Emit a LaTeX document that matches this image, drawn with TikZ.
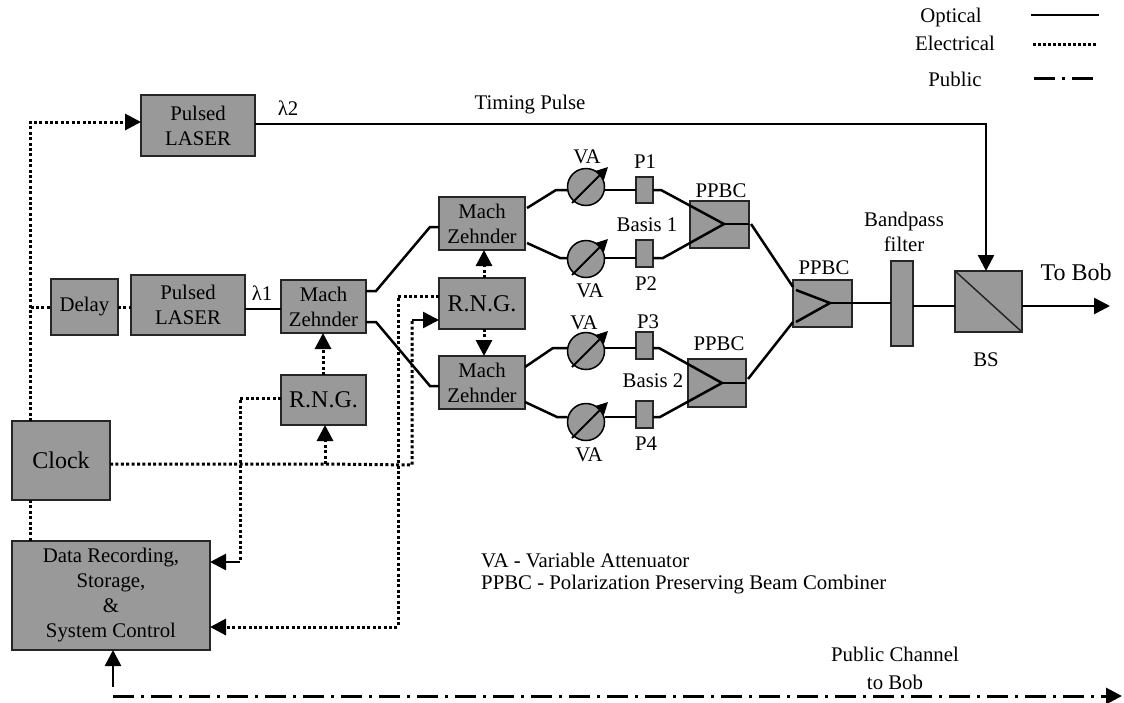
\documentclass[tikz,border=0pt]{standalone}
\usepackage{fontspec}
\setmainfont{Liberation Serif}
\usetikzlibrary{arrows.meta,calc}
\newcommand\gb[6]{%
  \pgfmathsetmacro\gbw{#4-#2}\pgfmathsetmacro\gbh{#5-#3}%
  \pgfmathsetmacro\gbx{(#2+#4)/2}\pgfmathsetmacro\gby{(#3+#5)/2}%
  \node[gbox,minimum width=\gbw pt,minimum height=\gbh pt] (#1) at (\gbx,\gby) {#6};}
\tikzset{
  gbox/.style={draw=black!85,fill=black!40,line width=1.5pt,inner sep=0pt,outer sep=0pt,align=center},
  big/.style={font=\fontsize{24}{28}\selectfont},
  vacirc/.style={circle,draw=black,fill=black!40,line width=1.5pt,minimum size=37pt,inner sep=0pt,outer sep=0pt},
  lbl/.style={inner sep=0pt,align=center},
  opt/.style={line width=2.5pt,line join=miter},
  elec/.style={line width=3pt,dash pattern=on 3pt off 2.4pt},
  pub/.style={line width=3pt,dash pattern=on 21pt off 7pt on 3pt off 7pt},
  tip/.style={-{Triangle[length=16pt,width=16pt]}},
  vtip/.style={-{Triangle[length=12pt,width=12pt]},line width=1.8pt}
}
\begin{document}
\begin{tikzpicture}[x=1pt,y=-1pt,font=\fontsize{20.8}{25}\selectfont]
\useasboundingbox (0,0) rectangle (1124,702);
% boxes
\gb{LT}{141}{95}{255}{156}{Pulsed\\LASER}
\gb{DL}{51}{279}{118}{335}{Delay}
\gb{LB}{131}{275}{245}{335}{Pulsed\\LASER}
\gb{MA}{281}{280}{366}{333}{Mach\\Zehnder}
\gb{RA}{281}{375}{366}{425}{\fontsize{24}{28}\selectfont R.N.G.}
\gb{CK}{12}{421}{110}{500}{\fontsize{24}{28}\selectfont Clock}
\gb{DR}{12}{541}{210}{650}{Data Recording,\\Storage,\\\&\\System Control}
\gb{MT}{439}{197}{525}{250}{Mach\\Zehnder}
\gb{RB}{439}{278}{525}{329}{\fontsize{24}{28}\selectfont R.N.G.}
\gb{MB}{439}{356}{525}{409}{Mach\\Zehnder}
\node[vacirc] (V1) at (586,187) {};
\node[vacirc] (V2) at (586,259) {};
\node[vacirc] (V3) at (586,351) {};
\node[vacirc] (V4) at (586,422) {};
\gb{P1}{636}{177}{653}{203}{}
\gb{P2}{636}{240}{653}{267}{}
\gb{P3}{636}{332}{653}{359}{}
\gb{P4}{636}{401}{653}{428}{}
\gb{C1}{690}{201}{749}{248}{}
\gb{C2}{688}{359}{746}{407}{}
\gb{C3}{793}{280}{852}{327}{}
\gb{FL}{891}{261}{913}{346}{}
\gb{BS}{955}{271}{1022}{332}{}
% named points
\coordinate (a1) at (376,291); \coordinate (a2) at (430,227);
\coordinate (b1) at (376,322); \coordinate (b2) at (430,386);
\coordinate (t1) at (556,190); \coordinate (t1p) at (661,190); \coordinate (tip1) at (724,224);
\coordinate (t2) at (560,258); \coordinate (t2p) at (663,258);
\coordinate (t3) at (553,348); \coordinate (t3p) at (659,348); \coordinate (tip2) at (722,383);
\coordinate (t4) at (557,417); \coordinate (t4p) at (660,417);
\coordinate (tip3) at (830,303);
\coordinate (s1) at (751,224); \coordinate (s2) at (793,287);
\coordinate (s3) at (748,379); \coordinate (s4) at (793,322);
\coordinate (i1) at (796,290); \coordinate (i2) at (796,322);
\coordinate (bsy) at (955,306);
\coordinate (bob) at (1110,306);
\coordinate (tm) at (986,124);
\coordinate (up) at (30.5,122);
\coordinate (dj) at (30.5,307);
\coordinate (ck) at (110,464);
\coordinate (ck1) at (325,464);
\coordinate (ck2) at (412,465);
\coordinate (ck3) at (412,320);
\coordinate (ra1) at (240,398);
\coordinate (ra2) at (240,562);
\coordinate (rb1) at (398,296);
\coordinate (rb2) at (398,627);
\coordinate (pb1) at (113,696);
\coordinate (pb2) at (113,687);
\coordinate (pb3) at (1122,696);
% optical
\draw[opt,tip] (LT.east |- tm) -- (tm) -- (BS.north -| tm);
\draw[opt] (LB.east |- 0,309) -- (MA.west |- 0,309);
\draw[opt] (MA.east |- a1) -- (a1) -- (a2) -- (MT.west |- a2);
\draw[opt] (MA.east |- b1) -- (b1) -- (b2) -- (MB.west |- b2);
\draw[opt] (527,208) -- (t1) -- (V1.west |- t1);
\draw[opt] (527,243) -- (t2) -- (V2.west |- t2);
\draw[opt] (MB.east |- 0,367) -- (t3) -- (V3.west |- t3);
\draw[opt] (MB.east |- 0,402) -- (t4) -- (V4.west |- t4);
\draw[opt] (V1.east |- t1) -- (P1.west |- t1);
\draw[opt] (V2.east |- t2) -- (P2.west |- t2);
\draw[opt] (V3.east |- t3) -- (P3.west |- t3);
\draw[opt] (V4.east |- t4) -- (P4.west |- t4);
\draw[opt] (P1.east |- t1p) -- (t1p) -- (tip1) -- (t2p) -- (P2.east |- t2p);
\draw[opt] (P3.east |- t3p) -- (t3p) -- (tip2) -- (t4p) -- (P4.east |- t4p);
\draw[opt] (tip1) -- (C1.east |- tip1);
\draw[opt] (tip2) -- (C2.east |- tip2);
\draw[opt] (s1) -- (s2);
\draw[opt] (s3) -- (s4);
\draw[opt] (i1) -- (tip3) -- (i2);
\draw[opt] (tip3) -- (FL.west |- tip3);
\draw[opt] (FL.east |- bsy) -- (BS.west |- bsy);
\draw[opt,tip] (BS.east |- bsy) -- (bob);
\draw[line width=1.5pt,black!85] (BS.north west) -- (BS.south east);
% VA arrows
\foreach \v in {V1,V2,V3,V4}{
  \draw[vtip] ($(\v)+(-14,16)$) -- ($(\v)+(22,-20)$);
}
% electrical
\draw[elec,tip] (CK.north -| up) -- (up) -- (LT.west |- up);
\draw[elec] (dj) -- (DL.west |- dj);
\draw[elec] (DL.east |- dj) -- (LB.west |- dj);
\draw[elec] (CK.south -| up) -- (DR.north -| up);
\draw[elec,tip] (RA.north -| 323,0) -- (MA.south -| 323,0);
\draw[elec] (CK.east |- ck) -- (ck1) -- (ck2) -- (ck3);
\draw[opt,tip] (ck3) -- (RB.west |- ck3);
\draw[elec,tip] (ck1) -- (RA.south -| ck1);
\draw[elec] (RA.west |- ra1) -- (ra1) -- (ra2);
\draw[opt,tip] (ra2) -- (DR.east |- ra2);
\draw[elec,tip] (RB.west |- rb1) -- (rb1) -- (rb2) -- (DR.east |- rb2);
\draw[elec,tip] (RB.north -| 484,0) -- (MT.south -| 484,0);
\draw[elec,tip] (RB.south -| 484,0) -- (MB.north -| 484,0);
% public
\draw[opt,tip] (pb2) -- (DR.south -| pb2);
\draw[pub,tip] (pb1) -- (pb3);
% legend
\coordinate (lg1) at (1031,15); \coordinate (lg2) at (1099,15);
\coordinate (lg3) at (1033,44); \coordinate (lg4) at (1097,44);
\coordinate (lg5) at (1034,78); \coordinate (lg6) at (1094,78);
\draw[opt] (lg1) -- (lg2);
\draw[elec,dash pattern=on 2.8pt off 2.2pt] (lg3) -- (lg4);
\draw[line width=3pt,dash pattern=on 21pt off 7pt on 3pt off 7pt] (lg5) -- (lg6);
% labels
\node[lbl] (tO) at (951,17) {Optical};
\node[lbl] (tE) at (955,43) {Electrical};
\node[lbl] (tP) at (955,79) {Public};
\node[lbl] (l2) at (288,108) {λ2};
\node[lbl] (tp) at (530,105) {Timing Pulse};
\node[lbl] (l1) at (262,293) {λ1};
\node[lbl] (v1) at (587,157) {VA};
\node[lbl] (p1) at (645,162) {P1};
\node[lbl] (q1) at (721,191) {PPBC};
\node[lbl] (b1l) at (647,225) {Basis 1};
\node[lbl] (v2) at (590,291) {VA};
\node[lbl] (p2) at (646,284) {P2};
\node[lbl] (v3) at (584,323) {VA};
\node[lbl] (p3) at (648,322) {P3};
\node[lbl] (q2) at (719,344) {PPBC};
\node[lbl] (b2l) at (653,381) {Basis 2};
\node[lbl] (v4) at (589,455) {VA};
\node[lbl] (p4) at (646,444) {P4};
\node[lbl] (q3) at (824,268) {PPBC};
\node[lbl] (bp) at (904,232) {Bandpass\\filter};
\node[lbl] (bsl) at (986,360) {BS};
\node[lbl,big] (tb) at (1076,272) {To Bob};
\node[lbl,anchor=west] (k1) at (481,560) {VA - Variable Attenuator};
\node[lbl,anchor=west] (k2) at (481,585) {PPBC - Polarization Preserving Beam Combiner};
\node[lbl] (pc) at (895,668) {Public Channel\\[3pt]to Bob};
\end{tikzpicture}
\end{document}
